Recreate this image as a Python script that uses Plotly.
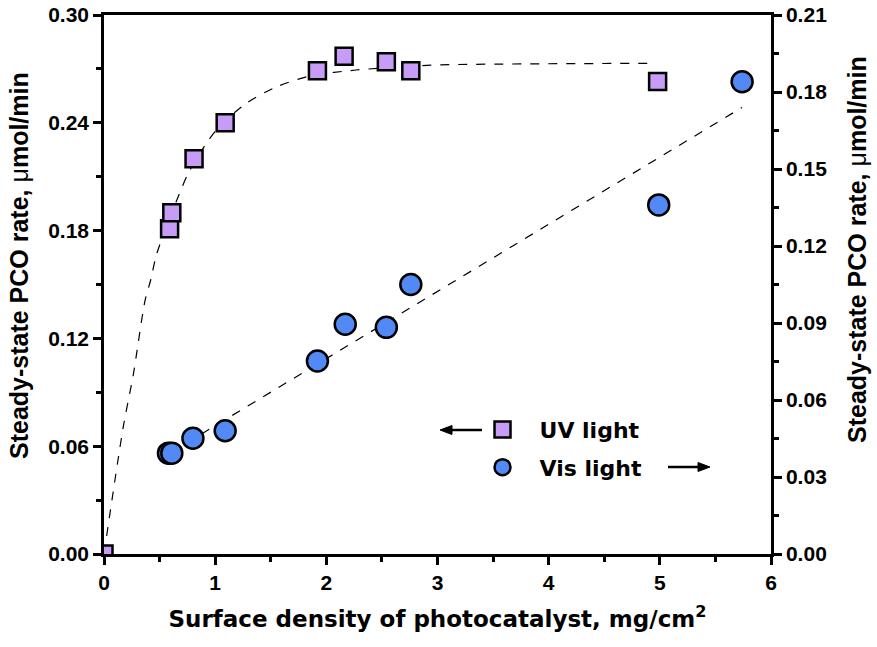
import plotly.graph_objects as go

# UV light data (left axis)
uv_x = [0.0, 0.59, 0.61, 0.81, 1.09, 1.92, 2.16, 2.54, 2.76, 4.98]
uv_y = [0.0, 0.181, 0.190, 0.220, 0.240, 0.269, 0.277, 0.274, 0.269, 0.263]
# UV fit curve points
uv_fit_x = [0.0, 0.174, 0.264, 0.369, 0.42, 0.474, 0.668, 0.773, 1.01, 1.283, 1.553, 1.85, 2.27, 2.72, 2.99, 4.955]
uv_fit_y = [0.0, 0.071, 0.100, 0.141, 0.1525, 0.167, 0.199, 0.2137, 0.236, 0.251, 0.260, 0.266, 0.2694, 0.2712, 0.2722, 0.2731]

# Vis light data (right axis)
vis_x = [0.58, 0.61, 0.80, 1.09, 1.92, 2.17, 2.54, 2.76, 4.99, 5.74]
vis_y = [0.0393, 0.0393, 0.0451, 0.048, 0.0752, 0.0895, 0.0883, 0.105, 0.136, 0.184]
vis_fit_x = [0.60, 2.03, 5.74]
vis_fit_y = [0.0395, 0.0770, 0.174]

UV_COLOR = "#C69CF7"
VIS_COLOR = "#5289F4"
FONT = "Liberation Sans, Arial, sans-serif"
WIDE = "DejaVu Sans, Liberation Sans, sans-serif"

fig = go.Figure()
fig.add_trace(go.Scatter(x=uv_fit_x, y=uv_fit_y, mode="lines", line=dict(color="black", width=1.2, dash="dash", shape="spline", smoothing=0.8), showlegend=False, hoverinfo="skip"))
fig.add_trace(go.Scatter(x=vis_fit_x, y=vis_fit_y, mode="lines", line=dict(color="black", width=1.2, dash="dash"), showlegend=False, yaxis="y2", hoverinfo="skip"))
fig.add_trace(go.Scatter(x=uv_x, y=uv_y, mode="markers", name="UV light", legendgroup="uv",
                         marker=dict(symbol="square", size=17, color=UV_COLOR, line=dict(color="black", width=2.5))))
fig.add_trace(go.Scatter(x=vis_x, y=vis_y, mode="markers", name="Vis light", yaxis="y2", legendgroup="vis",
                         marker=dict(symbol="circle", size=21, color=VIS_COLOR, line=dict(color="black", width=2.5))))

tickfont = dict(family=FONT, size=21, color="black", weight="bold")
xtitlefont = dict(family=WIDE, size=23, color="black", weight="bold")
ytitlefont = dict(family=FONT, size=25, color="black", weight="bold")
ytitle = "Steady-state PCO rate, <span style='font-weight:normal'>μ</span>mol/min"

fig.update_layout(
    width=877, height=647,
    margin=dict(l=104, r=106, t=15, b=93, autoexpand=False),
    plot_bgcolor="white", paper_bgcolor="white",
    xaxis=dict(range=[0, 6], dtick=1, tickformat="d", showgrid=False, zeroline=False, automargin=False,
               showline=True, linecolor="black", linewidth=2.5, mirror=True,
               ticks="outside", ticklen=8, tickwidth=2.5, tickcolor="black",
               minor=dict(dtick=0.5, ticks="outside", ticklen=5, tickwidth=2.5, tickcolor="black"),
               tickfont=tickfont,
               title=dict(text="Surface density of photocatalyst, mg/cm<sup>2</sup>", font=xtitlefont, standoff=18)),
    yaxis=dict(range=[0, 0.30], dtick=0.06, tickformat=".2f", showgrid=False, zeroline=False, automargin=False,
               showline=True, linecolor="black", linewidth=2.5,
               ticks="outside", ticklen=8, tickwidth=2.5, tickcolor="black",
               minor=dict(dtick=0.03, ticks="outside", ticklen=5, tickwidth=2.5, tickcolor="black"),
               tickfont=tickfont),
    yaxis2=dict(range=[0, 0.21], dtick=0.03, tickformat=".2f", overlaying="y", side="right", automargin=False,
                showgrid=False, zeroline=False, showline=True, linecolor="black", linewidth=2.5,
                ticks="outside", ticklen=8, tickwidth=2.5, tickcolor="black",
                minor=dict(dtick=0.015, ticks="outside", ticklen=5, tickwidth=2.5, tickcolor="black"),
                tickfont=tickfont),
    legend=dict(x=0.542, y=0.2695, xanchor="left", yanchor="top", bgcolor="rgba(0,0,0,0)",
                font=dict(family=WIDE, size=22, color="black", weight="bold"),
                traceorder="grouped", tracegroupgap=6, itemwidth=64),
    showlegend=True,
)

# helpers: pixel -> paper coordinates
def px(x):
    return (x - 104) / 667

def py(y):
    return (554 - y) / 539

# y-axis titles
fig.add_annotation(xref="paper", yref="paper", x=px(19), y=py(266), text=ytitle, textangle=-90,
                   showarrow=False, font=ytitlefont, xanchor="center", yanchor="middle")
fig.add_annotation(xref="paper", yref="paper", x=px(857), y=py(250), text=ytitle, textangle=-90,
                   showarrow=False, font=ytitlefont, xanchor="center", yanchor="middle")

# left-pointing arrow next to UV light
fig.add_shape(type="line", xref="paper", yref="paper", x0=px(450), x1=px(482), y0=py(430), y1=py(430),
              line=dict(color="black", width=2.5))
fig.add_shape(type="path", xref="paper", yref="paper",
              path=f"M {px(440)} {py(430)} L {px(452)} {py(434.5)} L {px(452)} {py(425.5)} Z",
              fillcolor="black", line=dict(color="black", width=1))
# right-pointing arrow next to Vis light
fig.add_shape(type="line", xref="paper", yref="paper", x0=px(668), x1=px(700), y0=py(467), y1=py(467),
              line=dict(color="black", width=2.5))
fig.add_shape(type="path", xref="paper", yref="paper",
              path=f"M {px(710)} {py(467)} L {px(698)} {py(462.5)} L {px(698)} {py(471.5)} Z",
              fillcolor="black", line=dict(color="black", width=1))

fig.write_html("out.html")
